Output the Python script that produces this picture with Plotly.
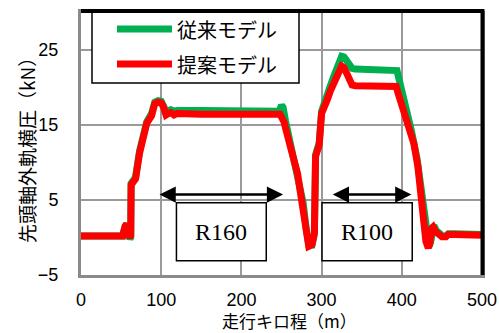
import plotly.graph_objects as go

# Running distance (m) and lateral force on the leading axle, outer rail (kN)
dist_conv = [0, 52, 55, 57, 59, 61, 62, 62.5, 66, 68, 73, 78, 82, 88, 92, 96, 100, 103, 106, 109,
             112, 116, 120, 150, 200, 247, 250, 252, 255, 262, 267, 272, 277, 281, 284, 288, 291,
             292.5, 294, 297, 300, 303, 307, 311, 315, 319, 322, 325, 328, 331, 334, 338, 342, 360,
             380, 394, 396, 400, 406, 412, 419, 424, 428, 431, 434, 436, 438, 440, 443, 447, 451,
             455, 458, 465, 480, 500]
force_conv = [0.2, 0.2, 1.5, 1.8, 0.4, -0.2, 0.0, 7.2, 7.6, 8.0, 11.5, 13.8, 15.4, 16.5, 18.0, 18.2,
              18.1, 17.5, 16.7, 16.9, 17.0, 16.8, 16.9, 16.9, 16.8, 16.8, 17.6, 17.3, 15.5, 12.2,
              10.3, 8.0, 4.6, 1.0, -1.0, -1.0, 0.5, 11.0, 11.8, 12.6, 16.8, 17.9, 18.8, 20.2, 21.4,
              22.5, 23.6, 24.1, 24.0, 23.5, 22.8, 22.5, 22.4, 22.3, 22.2, 22.2, 21.3, 19.6, 16.9,
              14.2, 10.5, 6.5, 2.8, 0.0, -1.2, -0.6, 1.4, 1.6, 0.9, 0.5, 0.2, 0.2, 0.5, 0.5, 0.4, 0.4]

dist_prop = [0, 52, 55, 57, 59, 61, 62, 62.5, 66, 68, 73, 78, 82, 88, 92, 96, 100, 103, 106, 109,
             112, 116, 120, 150, 200, 248, 250, 253, 260, 265, 270, 275, 280, 284, 288, 291, 292.5,
             294, 297, 300, 303, 307, 311, 315, 319, 322, 325, 328, 331, 334, 338, 342, 360, 380,
             393, 395, 402, 408, 415, 420, 424, 427, 430, 433, 435, 437, 439, 442, 446, 450, 455,
             458, 465, 480, 500]
force_prop = [0.2, 0.2, 1.5, 1.8, 0.4, 0.0, 0.2, 7.0, 7.4, 7.8, 11.2, 13.5, 15.2, 16.2, 17.8, 18.0,
              17.9, 17.3, 16.3, 16.5, 16.6, 16.3, 16.5, 16.4, 16.4, 16.4, 16.0, 15.4, 12.5, 10.7,
              8.5, 5.0, 1.0, -1.2, -1.0, 0.5, 10.8, 11.6, 12.3, 16.5, 17.6, 18.3, 19.5, 20.6, 21.2,
              22.0, 22.8, 22.6, 22.0, 21.0, 20.3, 20.2, 20.1, 20.1, 20.1, 19.3, 16.9, 14.5, 12.5,
              9.5, 5.5, 2.2, -0.5, -1.4, -0.8, 1.2, 1.4, 0.8, 0.5, 0.1, 0.1, 0.4, 0.4, 0.3, 0.3]

series_names = ["従来モデル", "提案モデル"]
series_colors = ["#00B050", "#FF0000"]

# Curve sections: label, start, end (m)
sections = [("R160", 96, 252), ("R100", 312, 412)]
section_boxes = [(119, 231), (300.5, 413)]
arrow_level = 5.7

x_ticks = [0, 100, 200, 300, 400, 500]
y_ticks = [-5, 5, 15, 25]
x_title = "走行キロ程（m）"
y_title = "先頭軸外軌横圧（kN）"

fig = go.Figure()
fig.add_trace(go.Scatter(x=dist_conv, y=force_conv, mode="lines", name=series_names[0],
                         line=dict(color=series_colors[0], width=7), showlegend=False))
fig.add_trace(go.Scatter(x=dist_prop, y=force_prop, mode="lines", name=series_names[1],
                         line=dict(color=series_colors[1], width=7), showlegend=False))

W, H = 499, 333
ml, mr, mt, mb = 81, 17, 12, 58
pw, ph = W - ml - mr, H - mt - mb


def px_x(p):
    return (p - ml) / pw


def px_y(p):
    return (H - mb - p) / ph


shapes = []
annotations = []

# Hand-built legend box
shapes.append(dict(type="rect", xref="paper", yref="paper",
                   x0=px_x(92), x1=px_x(299), y0=px_y(83), y1=px_y(12),
                   line=dict(color="black", width=1.5), fillcolor="white", layer="above"))
for i, (nm, col) in enumerate(zip(series_names, series_colors)):
    yy = px_y(29 + 35 * i)
    shapes.append(dict(type="line", xref="paper", yref="paper",
                       x0=px_x(117), x1=px_x(172), y0=yy, y1=yy,
                       line=dict(color=col, width=7), layer="above"))
    annotations.append(dict(text=nm, xref="paper", yref="paper", x=px_x(175), y=yy,
                            xanchor="left", yanchor="middle", showarrow=False,
                            font=dict(family="Noto Sans CJK JP", size=20, color="black")))

# Section arrows and labels
for (label, s0, s1), (b0, b1) in zip(sections, section_boxes):
    annotations.append(dict(x=s1, y=arrow_level, ax=s0, ay=arrow_level,
                            xref="x", yref="y", axref="x", ayref="y",
                            showarrow=True, arrowhead=2, arrowside="end+start",
                            arrowsize=1.3, arrowwidth=2.5, arrowcolor="black",
                            standoff=0, startstandoff=0, text=""))
    shapes.append(dict(type="rect", xref="x", yref="y", x0=b0, x1=b1, y0=-3.1, y1=4.6,
                       line=dict(color="black", width=1.5), fillcolor="white", layer="above"))
    annotations.append(dict(text=label, x=(b0 + b1) / 2, y=0.75, xref="x", yref="y",
                            showarrow=False, xanchor="center", yanchor="middle",
                            font=dict(family="Liberation Serif", size=24, color="black")))

# Axis titles
annotations.append(dict(text=x_title, xref="paper", yref="paper", x=px_x(289), y=px_y(320),
                        xanchor="center", yanchor="middle", showarrow=False,
                        font=dict(family="Noto Sans CJK JP", size=17, color="black")))
annotations.append(dict(text=y_title, xref="paper", yref="paper", x=px_x(26), y=px_y(146),
                        xanchor="center", yanchor="middle", showarrow=False, textangle=-90,
                        font=dict(family="Noto Sans CJK JP", size=19, color="black")))

# Dark frame on top and right of the plot area
shapes.append(dict(type="line", xref="paper", yref="paper", x0=0, x1=px_x(484), y0=px_y(11),
                   y1=px_y(11), line=dict(color="black", width=4), layer="above"))
shapes.append(dict(type="line", xref="paper", yref="paper", x0=px_x(482.5), x1=px_x(482.5),
                   y0=0, y1=px_y(11), line=dict(color="black", width=4), layer="above"))

fig.update_layout(
    width=W, height=H,
    margin=dict(l=ml, r=mr, t=mt, b=mb, autoexpand=False),
    paper_bgcolor="white", plot_bgcolor="white",
    shapes=shapes, annotations=annotations,
    font=dict(family="Liberation Sans", size=18, color="black"),
)
fig.update_xaxes(range=[0, 500], tickvals=x_ticks, ticks="", ticklabelstandoff=6,
                 showgrid=True, gridcolor="#9a9a9a", gridwidth=2, automargin=False,
                 showline=True, linecolor="#8a8a8a", linewidth=3, mirror=True,
                 zeroline=False)
fig.update_yaxes(range=[-5, 30], tickvals=y_ticks, ticks="", ticklabelstandoff=16,
                 showgrid=True, gridcolor="#9a9a9a", gridwidth=2, automargin=False,
                 showline=True, linecolor="#8a8a8a", linewidth=3, mirror=True,
                 zeroline=False)

fig.write_html("out.html")
